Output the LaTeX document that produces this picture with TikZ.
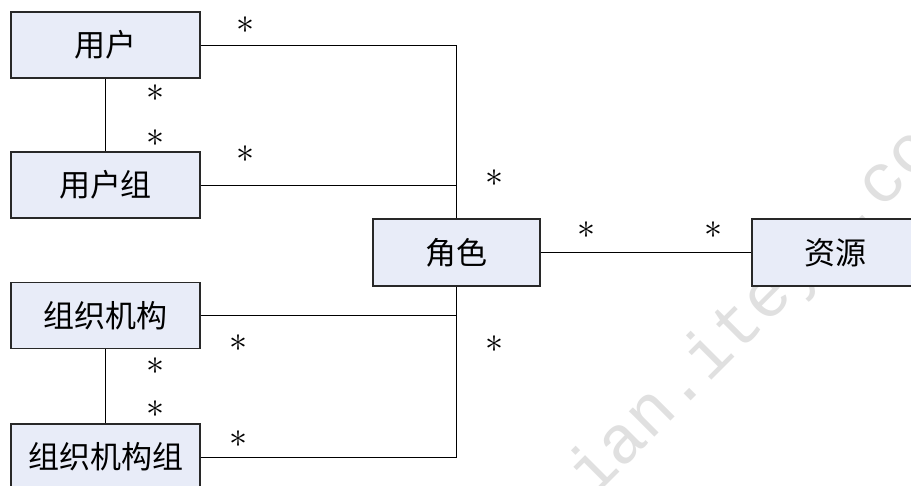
\documentclass[tikz,border=0pt]{standalone}
\usepackage{fontspec}
\newfontfamily\cjk{Noto Sans CJK SC}
\newfontfamily\wmfont{Liberation Mono}
\definecolor{boxfill}{RGB}{232,236,248}
\definecolor{boxline}{RGB}{40,40,40}
\newcommand{\multstar}{\scalebox{3.6}{$\ast$}}
\tikzset{
  entity/.style={draw=boxline, line width=1.1pt, fill=boxfill, inner sep=0pt,
    font=\cjk\fontsize{31}{36}\selectfont},
  leftbox/.style={entity, minimum width=189pt, minimum height=66pt},
  midbox/.style={entity, minimum width=167pt, minimum height=67pt},
  link/.style={draw=black, line width=0.9pt},
  mult/.style={inner sep=0pt}
}
\begin{document}
\begin{tikzpicture}[x=1pt, y=-1pt]
\useasboundingbox (0,0) rectangle (911,485);
\clip (0,0) rectangle (911,485);
\fill[white] (0,0) rectangle (911,485);
% watermark
\node[anchor=base west, rotate=45, text=black!12, font=\wmfont\fontsize{68}{68}\selectfont, inner sep=0pt] (wm) at (593,499) {ian.iteye.com};
% boxes
\node[leftbox] (user) at (105.5,45) {用户};
\node[leftbox] (ugroup) at (105.5,185) {用户组};
\node[leftbox] (org) at (105.5,315.5) {组织机构};
\node[leftbox] (orggroup) at (105.5,457) {组织机构组};
\node[midbox] (role) at (456.5,252.5) {角色};
\node[midbox] (res) at (835.5,252.5) {资源};
% connectors
\draw[link] (user.east) -| (role.north);
\draw[link] (ugroup.east) -| (role.north);
\draw[link] (org.east) -| (role.south);
\draw[link] (orggroup.east) -| (role.south);
\draw[link] (user.south) -- (ugroup.north);
\draw[link] (org.south) -- (orggroup.north);
\draw[link] (role.east) -- (res.west);
% multiplicities
\node[mult] (m1) at (245,25) {\multstar};
\node[mult] (m2) at (155,93) {\multstar};
\node[mult] (m3) at (155,138) {\multstar};
\node[mult] (m4) at (245,154) {\multstar};
\node[mult] (m5) at (494,178) {\multstar};
\node[mult] (m6) at (586,230) {\multstar};
\node[mult] (m7) at (713,230) {\multstar};
\node[mult] (m8) at (494,344) {\multstar};
\node[mult] (m9) at (238,343) {\multstar};
\node[mult] (m10) at (155,366) {\multstar};
\node[mult] (m11) at (155,409) {\multstar};
\node[mult] (m12) at (238,439) {\multstar};
\end{tikzpicture}
\end{document}
